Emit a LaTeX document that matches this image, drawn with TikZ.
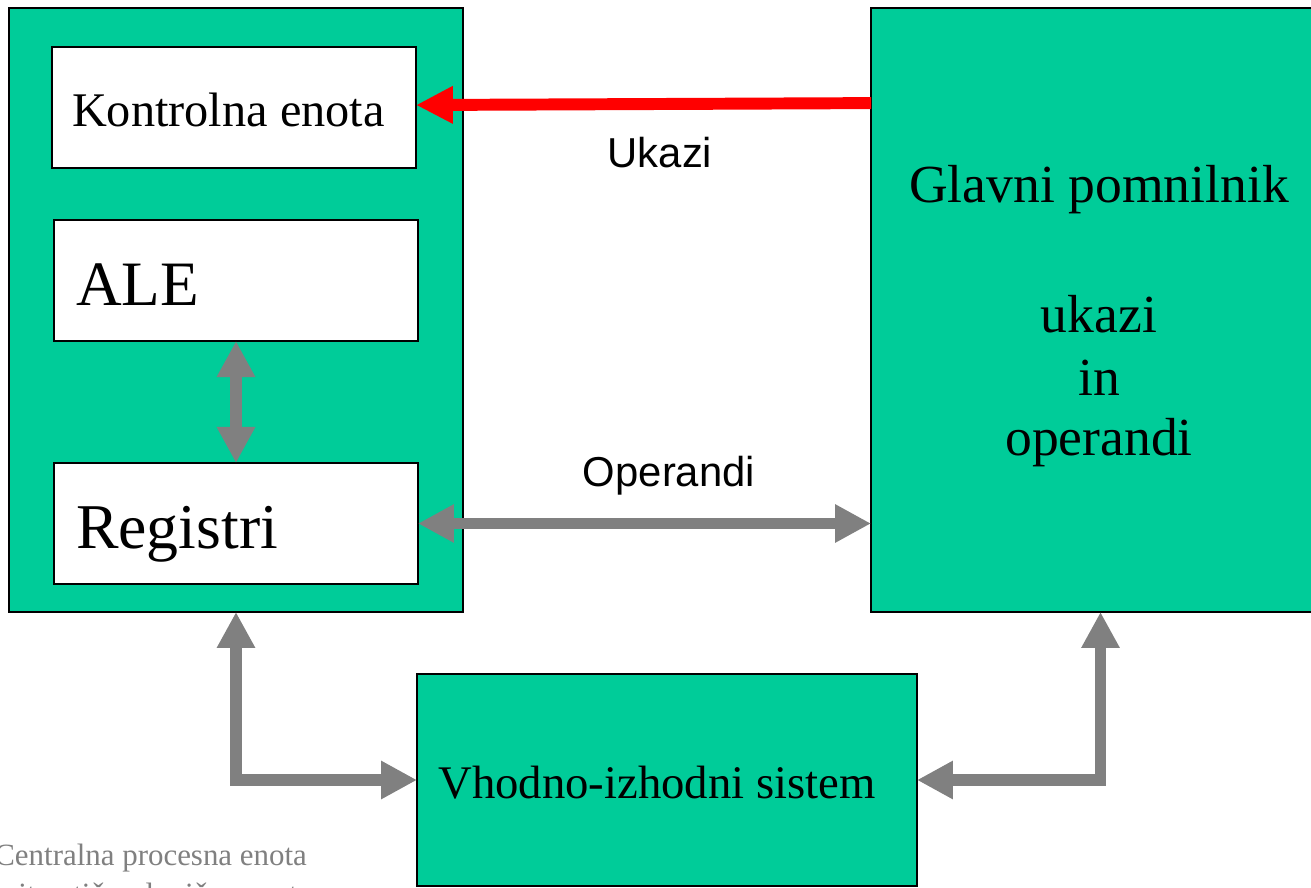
\documentclass[tikz,border=0pt]{standalone}
\usepackage{fontspec}
\setmainfont{Liberation Serif}
\newfontfamily\arialfont{Liberation Sans}
\usetikzlibrary{arrows.meta}
\definecolor{boxgreen}{HTML}{00CC99}
\definecolor{arrgray}{HTML}{808080}
\definecolor{capgray}{HTML}{808080}
\begin{document}
\begin{tikzpicture}[x=0.02cm,y=-0.02cm,
  greenbox/.style={draw=black,line width=1.1pt,fill=boxgreen,inner sep=0pt,outer sep=0pt},
  whitebox/.style={draw=black,line width=1.1pt,fill=white,inner sep=0pt,outer sep=0pt,minimum width=7.28cm,minimum height=2.42cm},
  txt/.style={inner sep=0pt,outer sep=0pt,text=black},
  gptxt/.style={txt,anchor=base,font=\fontsize{30.5}{36}\selectfont},
  sanslabel/.style={inner sep=0pt,font=\arialfont\fontsize{23.8}{28}\selectfont},
  grayarrow/.style={draw=arrgray,line width=6.8pt,line join=miter,{Triangle[length=20.5pt,width=20.5pt]}-{Triangle[length=20.5pt,width=20.5pt]}},
  redarrow/.style={draw=red,line width=6.8pt,-{Triangle[length=21pt,width=20pt]}},
  caption/.style={inner sep=0pt,text=capgray,font=\fontsize{17.6}{21}\selectfont}
]
\useasboundingbox (0,0) rectangle (1311,888);

% boxes
\node[greenbox,minimum width=9.08cm,minimum height=12.08cm] (cpu) at (236,310) {};
\node[greenbox,minimum width=9.18cm,minimum height=12.08cm] (gp) at (1100.5,310) {};
\node[greenbox,minimum width=10cm,minimum height=4.24cm] (vi) at (667,780) {};
\node[whitebox] (ke) at (234,107.5) {};
\node[whitebox] (ale) at (236,280.5) {};
\node[whitebox] (reg) at (236,523.5) {};

% texts
\node[txt,anchor=base west,font=\fontsize{27.5}{33}\selectfont] (ket) at (72,127) {Kontrolna enota};
\node[txt,anchor=base west,font=\fontsize{36}{42}\selectfont] (alet) at (76,306) {ALE};
\node[txt,anchor=base west,font=\fontsize{36.3}{42}\selectfont] (regt) at (76,548) {Registri};
\node[gptxt] (gpt) at (1099,203) {Glavni pomnilnik};
\node[gptxt] (gpu) at (1099,333) {ukazi};
\node[gptxt] (gpi) at (1099,395) {in};
\node[gptxt] (gpo) at (1099,455) {operandi};
\node[txt,anchor=base,font=\fontsize{26.6}{31}\selectfont] (vit) at (657,798) {Vhodno-izhodni sistem};

\node[sanslabel,anchor=base] (ukl) at (660,168) {Ukazi};
\node[sanslabel,anchor=base] (opl) at (669,486) {Operandi};

% connectors
\draw[redarrow] ([yshift=2.5pt]gp.west |- ke.east) -- ([yshift=1.4pt]ke.east);
\draw[grayarrow] (ale.south) -- (reg.north);
\draw[grayarrow] (reg.east) -- (reg.east -| gp.west);
\draw[grayarrow] (cpu.south -| reg.south) |- (vi.west);
\draw[grayarrow] (vi.east) -| (gp.south);

% caption (partly cut off at the picture's edges, as in the reference)
\node[caption,anchor=base west] (cap1) at (-6,865) {Centralna procesna enota};
\node[caption,anchor=base west] (cap2) at (-6,904) {aritmetično-logična enota};
\end{tikzpicture}
\end{document}
